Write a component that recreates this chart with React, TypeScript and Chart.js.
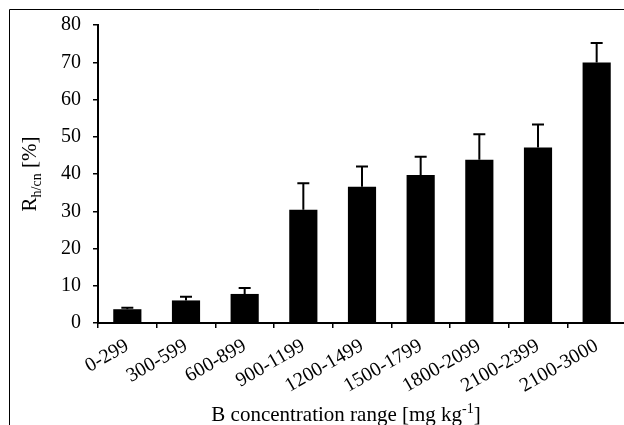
import React, { useEffect, useRef } from "react";
import { Chart, registerables } from "chart.js";

Chart.register(...registerables);

const categories = ["0-299", "300-599", "600-899", "900-1199", "1200-1499", "1500-1799", "1800-2099", "2100-2399", "2100-3000"];
const values = [3.7, 6.06, 7.8, 30.4, 36.6, 39.7, 43.8, 47.1, 69.9];
const errors = [0.4, 1.0, 1.6, 7.1, 5.4, 4.9, 6.9, 6.2, 5.3];
const yTicks = [0, 10, 20, 30, 40, 50, 60, 70, 80];

const FONT = "'Liberation Serif', 'Times New Roman', serif";

const extrasPlugin = {
  id: "extras",
  afterDatasetsDraw(chart: any) {
    const ctx = chart.ctx;
    const meta = chart.getDatasetMeta(0);
    const y = chart.scales.y;
    ctx.save();
    ctx.strokeStyle = "#000";
    ctx.lineWidth = 2;
    meta.data.forEach((bar: any, i: number) => {
      const x = bar.x;
      const top = y.getPixelForValue(values[i]);
      const et = y.getPixelForValue(values[i] + errors[i]);
      ctx.beginPath();
      ctx.moveTo(x, top);
      ctx.lineTo(x, et);
      ctx.moveTo(x - 6, et);
      ctx.lineTo(x + 6, et);
      ctx.stroke();
    });
    ctx.restore();
  },
  afterDraw(chart: any) {
    const ctx = chart.ctx;
    const area = chart.chartArea;
    ctx.save();
    // frame
    ctx.strokeStyle = "#000";
    ctx.lineWidth = 1;
    ctx.beginPath();
    ctx.moveTo(9.5, 425);
    ctx.lineTo(9.5, 9.5);
    ctx.lineTo(chart.width, 9.5);
    ctx.stroke();

    ctx.fillStyle = "#000";
    ctx.textBaseline = "alphabetic";
    // y title
    const big = `21px ${FONT}`;
    const small = `14px ${FONT}`;
    ctx.font = big;
    const wR = ctx.measureText("R").width;
    const wRest = ctx.measureText(" [%]").width;
    ctx.font = small;
    const wSub = ctx.measureText("h/cn").width;
    const total = wR + wSub + wRest;
    const cy = (area.top + area.bottom) / 2;
    ctx.translate(36, cy);
    ctx.rotate(-Math.PI / 2);
    ctx.textAlign = "left";
    let x0 = -total / 2;
    ctx.font = big;
    ctx.fillText("R", x0, 0);
    ctx.font = small;
    ctx.fillText("h/cn", x0 + wR, 5);
    ctx.font = big;
    ctx.fillText(" [%]", x0 + wR + wSub, 0);
    ctx.setTransform(1, 0, 0, 1, 0, 0);

    // x title
    const main = "B concentration range [mg kg";
    ctx.font = big;
    const wMain = ctx.measureText(main).width;
    const wBr = ctx.measureText("]").width;
    ctx.font = small;
    const wSup = ctx.measureText("-1").width;
    const tot2 = wMain + wSup + wBr;
    const cx = 346;
    const by = 420.5;
    let xs = cx - tot2 / 2;
    ctx.font = big;
    ctx.fillText(main, xs, by);
    ctx.font = small;
    ctx.fillText("-1", xs + wMain, by - 8);
    ctx.font = big;
    ctx.fillText("]", xs + wMain + wSup, by);
    ctx.restore();
  },
};

export default function App() {
  const ref = useRef<HTMLCanvasElement | null>(null);
  useEffect(() => {
    if (!ref.current) return;
    const chart = new Chart(ref.current, {
      type: "bar",
      data: {
        labels: categories,
        datasets: [
          {
            data: values,
            backgroundColor: "#000",
            borderColor: "#000",
            borderWidth: 0,
            barPercentage: 0.48,
            categoryPercentage: 1,
          },
        ],
      },
      options: {
        animation: false,
        responsive: false,
        maintainAspectRatio: false,
        layout: { padding: { top: 25, left: 0, right: 4, bottom: 0 } },
        plugins: {
          legend: { display: false },
          tooltip: { enabled: false },
          title: { display: false },
        },
        scales: {
          x: {
            offset: true,
            afterFit: (s: any) => {
              s.height = 102;
            },
            border: { display: true, color: "#000", width: 2 },
            grid: {
              offset: true,
              drawOnChartArea: false,
              drawTicks: true,
              tickLength: 5,
              color: "#000",
              lineWidth: 1.5,
            },
            ticks: {
              color: "#000",
              font: { family: FONT, size: 20 },
              maxRotation: 30,
              minRotation: 30,
              padding: 6,
              autoSkip: false,
            },
          },
          y: {
            min: 0,
            max: 80,
            afterFit: (s: any) => {
              s.width = 98;
            },
            afterBuildTicks: (s: any) => {
              s.ticks = yTicks.map((v) => ({ value: v }));
            },
            border: { display: true, color: "#000", width: 2 },
            grid: {
              drawOnChartArea: false,
              drawTicks: true,
              tickLength: 5,
              color: "#000",
              lineWidth: 1.5,
            },
            ticks: {
              color: "#000",
              font: { family: FONT, size: 20 },
              padding: 12,
            },
          },
        },
      },
      plugins: [extrasPlugin],
    });
    return () => chart.destroy();
  }, []);
  return (
    <div style={{ position: "absolute", left: 0, top: 0, width: 624, height: 425, overflow: "hidden", background: "#fff" }}>
      <canvas ref={ref} width={630} height={425} style={{ display: "block", width: 630, height: 425 }} />
    </div>
  );
}
